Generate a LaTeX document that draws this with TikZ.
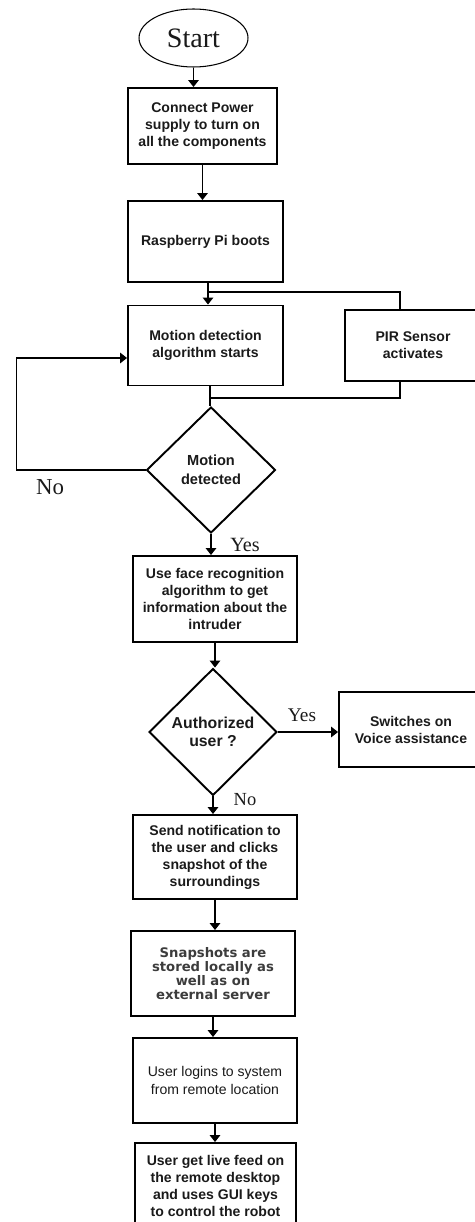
\documentclass[tikz,border=0pt]{standalone}
\usepackage{fontspec}
\setmainfont{Liberation Sans}
\newfontfamily\serifed{Liberation Serif}
\newfontfamily\widefont{DejaVu Sans}
\usepackage{xcolor}
\usepackage{tikz}
\usetikzlibrary{positioning,arrows.meta,calc,shapes.geometric}
\definecolor{ink}{HTML}{1A1A1A}
\definecolor{fade}{HTML}{3C3C3C}

\begin{document}
\begin{tikzpicture}[x=0.02cm, y=-0.02cm, font=\fontsize{8}{9.7}\selectfont\bfseries, text=ink,
  stepbox/.style={draw, line width=1.1pt, rectangle, align=center, inner sep=0pt},
  ask/.style={draw, line width=1.1pt, diamond, aspect=1, align=center, inner sep=0pt},
  arr/.style={line width=0.85pt, -{Triangle[length=4pt, width=6pt]}},
  link/.style={line width=0.85pt},
  answer/.style={font=\serifed\fontsize{#1}{#1}\selectfont\mdseries}]
\useasboundingbox (0,0) rectangle (475,1222);
\node[draw, line width=0.6pt, ellipse, minimum width=2.18cm, minimum height=1.16cm, inner sep=0pt, font=\serifed\fontsize{16}{16}\selectfont] (start) at (193.5,38) {Start};
\node[stepbox, minimum width=2.98cm, minimum height=1.52cm] (power) at (202.5,126) {Connect Power\\ supply to turn on\\ all the components};
\node[stepbox, minimum width=3.10cm, minimum height=1.62cm] (boot) at (205.5,241.5) {Raspberry Pi boots};
\node[stepbox, minimum width=3.10cm, minimum height=1.60cm] (motion) at (205.5,345.5) {Motion detection\\ algorithm starts};
\node[stepbox, minimum width=2.72cm, minimum height=1.42cm] (pir) at (413,345.5) {PIR Sensor\\ activates};
\node[ask, minimum width=2.58cm, minimum height=2.52cm, font=\fontsize{8.3}{10.5}\selectfont\bfseries] (detect) at (211,470) {Motion\\ detected};
\node[stepbox, minimum width=3.28cm, minimum height=1.72cm] (face) at (215,599) {Use face recognition\\ algorithm to get\\ information about the\\ intruder};
\node[ask, minimum width=2.56cm, minimum height=2.54cm, font=\fontsize{9}{10.5}\selectfont\bfseries] (auth) at (213,732) {Authorized\\ user ?};
\node[stepbox, minimum width=2.88cm, minimum height=1.50cm] (voice) at (411,729.5) {Switches on\\ Voice assistance};
\node[stepbox, minimum width=3.28cm, minimum height=1.68cm] (notify) at (215,857) {Send notification to\\ the user and clicks\\ snapshot of the\\ surroundings};
\node[stepbox, minimum width=3.28cm, minimum height=1.70cm, font=\widefont\fontsize{7.5}{8}\selectfont\bfseries, text=fade] (snap) at (213,973.5) {Snapshots are\\ stored locally as\\ well as on\\ external server};
\node[stepbox, minimum width=3.28cm, minimum height=1.70cm, font=\fontsize{8}{9.8}\selectfont\mdseries] (login) at (215,1080.5) {User logins to system\\ from remote location};
\node[stepbox, minimum width=3.22cm, minimum height=1.72cm] (live) at (215.5,1186) {User get live feed on\\ the remote desktop\\ and uses GUI keys\\ to control the robot};
\coordinate (split) at (208,292);
\coordinate (merge) at (210,398);
\draw[arr] (start.south) -- (start.south |- power.north);
\draw[arr] (power.south) -- (power.south |- boot.north);
\draw[link] (boot.south -| split) -- (split);
\draw[arr] (split) -- (split |- motion.north);
\draw[link] (split) -| ([xshift=-0.26cm]pir.north);
\draw[link] (motion.south -| merge) -- (merge) -- (merge |- detect.north);
\draw[link] (merge) -| ([xshift=-0.26cm]pir.south);
\draw[arr] (detect.west) -- ++(-129,0) |- ([yshift=-0.25cm]motion.west);
\node[answer=13] (no1) at (50,487) {No};
\draw[arr] (detect.south) -- (detect.south |- face.north);
\node[answer=11.5] (yes1) at (245,545) {Yes};
\draw[arr] (face.south) -- (face.south |- auth.north);
\draw[arr] (auth.east) -- (auth.east -| voice.west);
\node[answer=11] (yes2) at (302,715) {Yes};
\draw[arr] (auth.south) -- (auth.south |- notify.north);
\node[answer=10.5] (no2) at (245,800) {No};
\draw[arr] (notify.south) -- (notify.south |- snap.north);
\draw[arr] (snap.south) -- (snap.south |- login.north);
\draw[arr] (login.south) -- (login.south |- live.north);
\end{tikzpicture}
\end{document}
